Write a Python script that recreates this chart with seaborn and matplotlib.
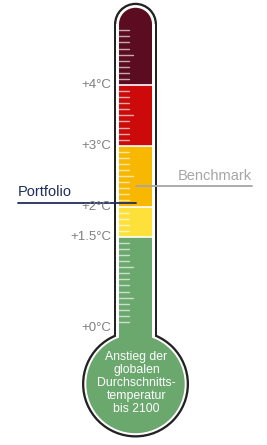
import matplotlib
matplotlib.use("Agg")
import matplotlib.pyplot as plt
from matplotlib.patches import Ellipse, Rectangle
import seaborn as sns
import pandas as pd
import numpy as np

# temperature bands of the thermometer (deg C)
band_lo = [-0.95, 1.5, 2.0, 3.0, 4.0]
band_hi = [1.5, 2.0, 3.0, 4.0, 5.0]
band_colors = ["#6aa86e", "#fde03a", "#f8b700", "#cc0a0a", "#5c0c20"]

scale_ticks = [0, 1.5, 2, 3, 4]
scale_labels = ["+0°C", "+1.5°C", "+2°C", "+3°C", "+4°C"]

markers = ["Portfolio", "Benchmark"]
marker_values = [2.06, 2.33]
marker_colors = ["#1f2d5c", "#a6a6a6"]

sns.set_style("white")
plt.rcParams["font.family"] = ["Liberation Sans Narrow", "Liberation Sans", "DejaVu Sans"]

PX = 60.75      # pixels per degree
ZERO = 328      # pixel row of 0 deg


def T(p):
    return (ZERO - p) / PX


fig = plt.figure(figsize=(2.67, 4.45), dpi=100)
ax = fig.add_axes([0, 0, 1, 1])

cx = 135.5
bulb_y = T(384)
top_y = 5.0
layers = [(21.5, 53.5, "#222222"), (19.2, 51.2, "white")]
for half, r, col in layers:
    ax.add_patch(Rectangle((cx - half, bulb_y), 2 * half, top_y - bulb_y, color=col, lw=0))
    ax.add_patch(Ellipse((cx, top_y), 2 * half, 2 * half / PX, color=col, lw=0))
    ax.add_patch(Ellipse((cx, bulb_y), 2 * r, 2 * r / PX, color=col, lw=0))

# coloured column
inner = 16.5
ax.bar([cx] * len(band_lo), [h - l for l, h in zip(band_lo, band_hi)], bottom=band_lo,
       width=2 * inner, color=band_colors, linewidth=0)
ax.add_patch(Ellipse((cx, top_y), 2 * inner, 2 * inner / PX, color=band_colors[-1], lw=0))
ax.add_patch(Ellipse((cx, bulb_y), 2 * 49.2, 2 * 49.2 / PX, color=band_colors[0], lw=0))
ax.hlines(band_lo[1:], cx - inner, cx + inner, color="white", lw=1.2)

# small scale ticks
fine = np.round(np.arange(0.1, 5.0, 0.1), 1)
fine = [t for t in fine if t not in scale_ticks]
lengths = [14 if abs(t * 2 - round(t * 2)) < 1e-6 else 9.5 for t in fine]
for t, ln in zip(fine, lengths):
    ax.plot([cx - inner, cx - inner + ln], [t, t], color="white", alpha=0.65, lw=1)

for t, lab in zip(scale_ticks, scale_labels):
    ax.text(111, t, lab, ha="right", va="center", fontsize=9.5, color="#808080")

# portfolio / benchmark markers
df = pd.DataFrame({
    "name": ["Portfolio", "Portfolio", "Benchmark", "Benchmark"],
    "x": [18, cx, cx, 252],
    "y": [marker_values[0]] * 2 + [marker_values[1]] * 2,
})
sns.lineplot(data=df, x="x", y="y", hue="name", palette=dict(zip(markers, marker_colors)),
             linewidth=1.3, legend=False, ax=ax, estimator=None, sort=False)
ax.text(18, marker_values[0] + 0.06, markers[0], ha="left", va="bottom", fontsize=10.5,
        color=marker_colors[0])
ax.text(252, marker_values[1] + 0.06, markers[1], ha="right", va="bottom", fontsize=10.5,
        color=marker_colors[1])

ax.text(136.5, bulb_y + 0.02, "Anstieg der\nglobalen\nDurchschnitts-\ntemperatur\nbis 2100",
        ha="center", va="center", color="white", fontsize=8.8, linespacing=1.12)

ax.set_xlim(0, 267)
ax.set_ylim(T(445), T(0))
ax.axis("off")
fig.savefig("out.png", dpi=100)
